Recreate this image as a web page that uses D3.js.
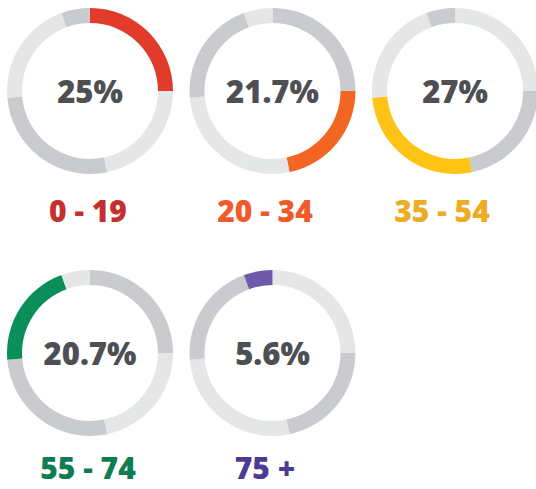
<!doctype html>
<html>
<head>
<script src="https://d3js.org/d3.v7.min.js"></script>
<style>
  body { margin: 0; background: #fff; }
  text { font-family: "Open Sans", Lato, sans-serif; }
</style>
</head>
<body>
<svg width="536" height="489"></svg>
<script>
// age groups and their share of the total (%)
var groups = ["0 - 19", "20 - 34", "35 - 54", "55 - 74", "75 +"];
var shares = [25, 21.7, 27, 20.7, 5.6];
var shareLabels = ["25%", "21.7%", "27%", "20.7%", "5.6%"];

var arcColors = ["#e03b2b", "#f26522", "#fec314", "#0a8f5a", "#6e59a8"];
var textColors = ["#c4302e", "#f15a29", "#eeab24", "#0e7d51", "#4b3b92"];
var lightGray = "#e5e6e6",
    darkGray = "#c9cbce";

var svg = d3.select("svg");

var cols = 3;
var xRing = d3.scaleLinear().domain([0, 2]).range([90, 455]),
    xLabel = d3.scaleLinear().domain([0, 2]).range([88, 442]),
    yRow = d3.scaleLinear().domain([0, 1]).range([91, 353]),
    yLabel = d3.scaleLinear().domain([0, 1]).range([222, 479]);

var pie = d3.pie().sort(null).value(function(d) { return d; });
var slices = pie(shares);

var arc = d3.arc().innerRadius(68).outerRadius(83);

var cell = svg.selectAll("g.cell")
    .data(groups)
    .enter().append("g")
    .attr("class", "cell")
    .attr("transform", function(d, i) {
        return "translate(" + xRing(i % cols) + "," + yRow(Math.floor(i / cols)) + ")";
    });

cell.each(function(g, i) {
    var el = d3.select(this);

    el.selectAll("path")
        .data(slices)
        .enter().append("path")
        .attr("d", arc)
        .attr("fill", function(s, j) {
            if (j === i) return arcColors[i];
            var off = (j - i + 5) % 5;
            return off % 2 === 1 ? lightGray : darkGray;
        });

    el.append("text")
        .attr("text-anchor", "middle")
        .attr("y", 12)
        .style("font-size", "31px")
        .style("font-weight", 800)
        .style("fill", "#4d4f53")
        .text(shareLabels[i]);
});

// group labels under each ring
svg.selectAll("text.group")
    .data(groups)
    .enter().append("text")
    .attr("class", "group")
    .attr("text-anchor", "middle")
    .attr("x", function(d, i) { return xLabel(i % cols); })
    .attr("y", function(d, i) { return yLabel(Math.floor(i / cols)); })
    .style("font-size", "30px")
    .style("font-weight", 800)
    .style("fill", function(d, i) { return textColors[i]; })
    .text(function(d) { return d; });
</script>
</body>
</html>
